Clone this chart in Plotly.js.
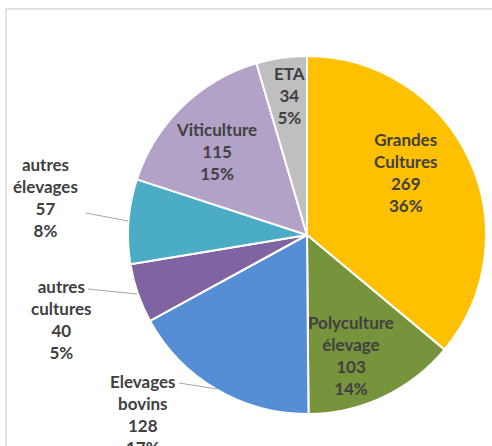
<!DOCTYPE html>
<html>
<head>
<meta charset="utf-8">
<script src="https://cdn.plot.ly/plotly-3.0.1.min.js"></script>
<style>html,body{margin:0;padding:0;background:#fff;}#chart{width:492px;height:446px;}</style>
</head>
<body>
<div id="chart"></div>
<script>
// Data
var categories = ['Grandes Cultures', 'Polyculture élevage', 'Elevages bovins', 'autres cultures', 'autres élevages', 'Viticulture', 'ETA'];
var values = [269, 103, 128, 40, 57, 115, 34];
var colors = ['#FFC000', '#77933C', '#558ED5', '#8064A2', '#4BACC6', '#B3A2C7', '#BFBFBF'];

// Label placement (pixel centres of each label block)
var labelPos = [[406, 172], [351, 355], [143, 414], [62, 319], [45, 197], [216, 151], [289, 96]];
// Leader lines for outside labels: [x0,y0,x1,y1] in px
var leaders = [[179, 383, 217, 389], [88, 289, 137, 294], [86, 213, 128, 221]];

var W = 492, H = 446;
var total = values.reduce(function (a, b) { return a + b; }, 0);
function px(x) { return x / W; }
function py(y) { return 1 - y / H; }

var cx = 307, cy = 235, r = 179;

var trace = {
  type: 'pie',
  labels: categories,
  values: values,
  sort: false,
  direction: 'clockwise',
  rotation: 0,
  textinfo: 'none',
  hoverinfo: 'label+value+percent',
  marker: { colors: colors, line: { color: '#FFFFFF', width: 2 } },
  domain: { x: [px(cx - r), px(cx + r)], y: [py(cy + r), py(cy - r)] },
  showlegend: false
};

var annotations = categories.map(function (c, i) {
  var pct = Math.round(values[i] / total * 100);
  return {
    xref: 'paper', yref: 'paper',
    x: px(labelPos[i][0]), y: py(labelPos[i][1]),
    xanchor: 'center', yanchor: 'middle',
    text: '<b>' + c.replace(' ', '<br>') + '<br>' + values[i] + '<br>' + pct + '%</b>',
    showarrow: false, align: 'center',
    font: { family: 'Lato, "Open Sans", sans-serif', size: 17, color: '#404040' }
  };
});

var shapes = [{
  type: 'rect', xref: 'paper', yref: 'paper',
  x0: px(6), x1: 1.1, y0: -0.1, y1: py(9),
  line: { color: '#D9D9D9', width: 1.5 }, fillcolor: 'rgba(0,0,0,0)', layer: 'below'
}];
leaders.forEach(function (l) {
  shapes.push({
    type: 'line', xref: 'paper', yref: 'paper',
    x0: px(l[0]), y0: py(l[1]), x1: px(l[2]), y1: py(l[3]),
    line: { color: '#A6A6A6', width: 1 }
  });
});

var layout = {
  width: W, height: H,
  margin: { l: 0, r: 0, t: 0, b: 0 },
  paper_bgcolor: '#FFFFFF',
  plot_bgcolor: '#FFFFFF',
  annotations: annotations,
  shapes: shapes
};

Plotly.newPlot('chart', [trace], layout, { displayModeBar: false, staticPlot: true });
</script>
</body>
</html>
